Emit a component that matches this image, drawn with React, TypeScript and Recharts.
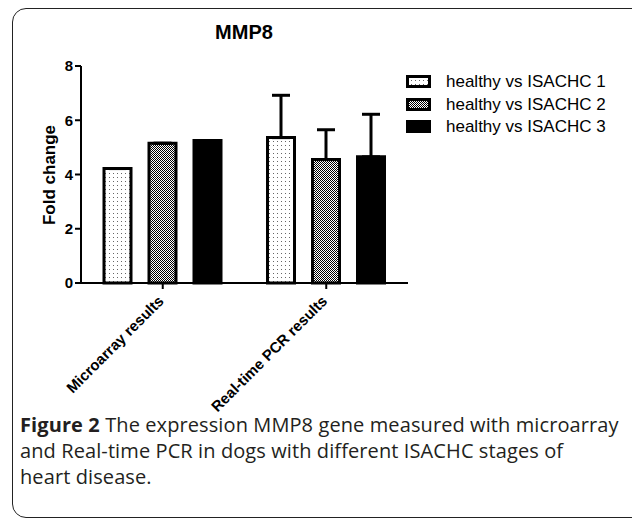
import React from "react";
import { BarChart, Bar, XAxis, YAxis, ErrorBar } from "recharts";

const categories = ["Microarray results", "Real-time PCR results"];
const seriesNames = ["healthy vs ISACHC 1", "healthy vs ISACHC 2", "healthy vs ISACHC 3"];
const isachc1 = [4.22, 5.36];
const isachc2 = [5.15, 4.55];
const isachc3 = [5.25, 4.65];
const err1 = [0, 1.56];
const err2 = [0, 1.1];
const err3 = [0, 1.57];
const yTicks = [0, 2, 4, 6, 8];
const title = "MMP8";
const yLabel = "Fold change";
const captionBold = "Figure 2";
const captionLines = [
  " The expression MMP8 gene measured with microarray",
  "and Real-time PCR in dogs with different ISACHC stages of",
  "heart disease.",
];

const data = categories.map((c, i) => ({
  name: c,
  s1: isachc1[i],
  s2: isachc2[i],
  s3: isachc3[i],
  e1: [0, err1[i]],
  e2: [0, err2[i]],
  e3: [0, err3[i]],
}));

const fills = ["url(#dots)", "url(#checker)", "#000"];
const keys = ["s1", "s2", "s3"];
const errKeys = ["e1", "e2", "e3"];

const XTick = (props: any) => {
  const { x, y, payload } = props;
  return (
    <g transform={`translate(${x + 2},${y + 11})`}>
      <text
        transform="rotate(-45)"
        textAnchor="end"
        fontFamily="Liberation Sans, Arial, sans-serif"
        fontWeight="bold"
        fontSize={15}
        fill="#000"
      >
        {payload.value}
      </text>
    </g>
  );
};

const PatternDefs = () => (
  <defs>
    <pattern id="dots" width="4" height="4" patternUnits="userSpaceOnUse">
      <rect width="4" height="4" fill="#fff" />
      <rect x="1" y="1" width="1" height="1" fill="#666" />
    </pattern>
    <pattern id="checker" width="2" height="2" patternUnits="userSpaceOnUse">
      <rect width="2" height="2" fill="#fff" />
      <rect x="0" y="0" width="1" height="1" fill="#000" />
      <rect x="1" y="1" width="1" height="1" fill="#000" />
    </pattern>
  </defs>
);

export default function App() {
  return (
    <div style={{ position: "absolute", left: 0, top: 0, width: 632, height: 520, overflow: "hidden", background: "#fff" }}>
      <div
        style={{
          position: "absolute",
          left: 12,
          top: 8,
          width: 640,
          height: 508,
          border: "1.5px solid #222",
          borderRadius: 14,
        }}
      />
      <div
        style={{
          position: "absolute",
          left: 144,
          top: 21,
          width: 200,
          textAlign: "center",
          fontFamily: "Liberation Sans, Arial, sans-serif",
          fontWeight: "bold",
          fontSize: 20,
          color: "#000",
        }}
      >
        {title}
      </div>
      <div
        style={{
          position: "absolute",
          left: 50,
          top: 175,
          transform: "translate(-50%, -50%) rotate(-90deg)",
          whiteSpace: "nowrap",
          fontFamily: "Liberation Sans, Arial, sans-serif",
          fontWeight: "bold",
          fontSize: 17,
          color: "#000",
        }}
      >
        {yLabel}
      </div>
      <div style={{ position: "absolute", left: 0, top: 0 }}>
        <BarChart
          width={632}
          height={480}
          data={data}
          margin={{ top: 66, right: 224, left: 0, bottom: 0 }}
          barSize={27}
          barGap={18}
        >
          <PatternDefs />
          <XAxis
            dataKey="name"
            height={197}
            interval={0}
            tick={<XTick />}
            tickSize={6}
            axisLine={{ stroke: "#000", strokeWidth: 2 }}
            tickLine={{ stroke: "#000", strokeWidth: 2 }}
          />
          <YAxis
            width={81}
            domain={[0, 8]}
            ticks={yTicks}
            tickSize={6}
            tickMargin={2}
            axisLine={{ stroke: "#000", strokeWidth: 2 }}
            tickLine={{ stroke: "#000", strokeWidth: 2 }}
            tick={{ fill: "#000", fontSize: 15, fontWeight: "bold", fontFamily: "Liberation Sans, Arial, sans-serif" }}
          />
          {keys.map((k, i) => (
            <Bar
              key={k}
              dataKey={k}
              name={seriesNames[i]}
              fill={fills[i]}
              stroke="#000"
              strokeWidth={3}
              isAnimationActive={false}
            >
              <ErrorBar dataKey={errKeys[i]} width={9} stroke="#000" strokeWidth={3} direction="y" />
            </Bar>
          ))}
        </BarChart>
      </div>
      <div
        style={{
          position: "absolute",
          left: 406,
          top: 71,
          fontFamily: "Liberation Sans, Arial, sans-serif",
          fontSize: 17,
          color: "#000",
        }}
      >
        {seriesNames.map((n, i) => (
          <div key={n} style={{ display: "flex", alignItems: "center", height: 22.5 }}>
            <svg width={26} height={14} style={{ marginRight: 14 }}>
              <PatternDefs />
              <rect x={1.5} y={1.5} width={22} height={10} fill={fills[i]} stroke="#000" strokeWidth={3} />
            </svg>
            <span style={{ whiteSpace: "nowrap" }}>{n}</span>
          </div>
        ))}
      </div>
      <div
        style={{
          position: "absolute",
          left: 20,
          top: 412,
          fontFamily: "Open Sans, Noto Sans, sans-serif",
          fontSize: 20,
          lineHeight: "26px",
          color: "#231f20",
          letterSpacing: 0.1,
          whiteSpace: "nowrap",
        }}
      >
        <div>
          <b>{captionBold}</b>
          {captionLines[0]}
        </div>
        <div>{captionLines[1]}</div>
        <div>{captionLines[2]}</div>
      </div>
    </div>
  );
}
